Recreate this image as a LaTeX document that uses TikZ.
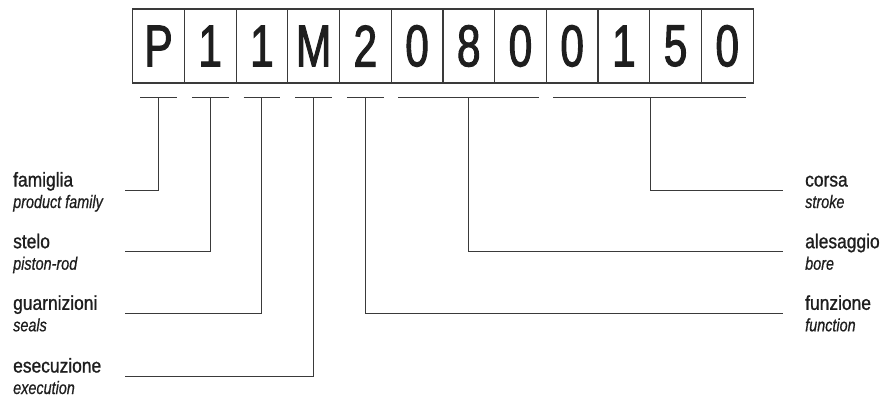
\documentclass[tikz,border=0pt]{standalone}
\usepackage{fontspec}
\setmainfont{Liberation Sans}
\newfontfamily\boxfont{Liberation Sans}[FakeStretch=0.72,FakeBold=1.6]
\newfontfamily\lblfont{Liberation Sans}[FakeStretch=0.87,FakeBold=1.0]
\newfontfamily\subfont{Liberation Sans}[FakeStretch=0.8,FakeBold=0.6]
\definecolor{ink}{HTML}{1E1E1E}
\definecolor{linec}{HTML}{3A3A3A}
\begin{document}
\begin{tikzpicture}[x=1pt,y=-1pt,
  digitbox/.style={draw=linec, line width=1.2pt, minimum width=51.7pt, minimum height=74pt,
    inner sep=0pt, text=ink, font=\boxfont\fontsize{59}{61}\selectfont},
  seg/.style={draw=linec, line width=1pt},
  conn/.style={draw=linec, line width=1pt},
  lbl/.style={anchor=base west, inner sep=0pt, text=ink, font=\lblfont\fontsize{20}{22}\selectfont},
  sublbl/.style={anchor=base west, inner sep=0pt, text=ink, font=\subfont\itshape\fontsize{18}{20}\selectfont}]
\useasboundingbox (0,0) rectangle (880,399);
\foreach \c [count=\i] in {P,1,1,M,2,0,8,0,0,1,5,0}{
  \node[digitbox] (b\i) at ({132.7+51.7*(\i-0.5)},46) {\c};
}
% underline segments
\foreach \i in {1,...,5}{
  \draw[seg] ([xshift=8pt,yshift=-14pt]b\i.south west) -- ([xshift=-8pt,yshift=-14pt]b\i.south east);
  \coordinate (d\i) at ([yshift=-14pt]b\i.south);
}
\draw[seg] ([xshift=7.5pt,yshift=-14pt]b6.south west) -- ([xshift=-7.5pt,yshift=-14pt]b8.south east);
\coordinate (d6) at ([yshift=-14pt]b7.south);
\draw[seg] ([xshift=7.5pt,yshift=-14pt]b9.south west) -- ([xshift=-7.5pt,yshift=-14pt]b12.south east);
\coordinate (d7) at ([yshift=-14pt]b10.south east);
% left labels
\node[lbl] (l1) at (13,186.5) {famiglia};
\node[sublbl] (s1) at (13,208) {product family};
\node[lbl] (l2) at (13,248.2) {stelo};
\node[sublbl] (s2) at (13,269.7) {piston-rod};
\node[lbl] (l3) at (13,309.8) {guarnizioni};
\node[sublbl] (s3) at (13,331.3) {seals};
\node[lbl] (l4) at (13,372.5) {esecuzione};
\node[sublbl] (s4) at (13,394) {execution};
\coordinate (e1) at (125,190);
\coordinate (e2) at (125,251.7);
\coordinate (e3) at (125,313.3);
\coordinate (e4) at (125,376);
\draw[conn] (d1) |- (e1);
\draw[conn] (d2) |- (e2);
\draw[conn] (d3) |- (e3);
\draw[conn] (d4) |- (e4);
% right labels
\node[lbl] (r1) at (805,186.5) {corsa};
\node[sublbl] (t1) at (805,208) {stroke};
\node[lbl] (r2) at (805,248.2) {alesaggio};
\node[sublbl] (t2) at (805,269.7) {bore};
\node[lbl] (r3) at (805,309.8) {funzione};
\node[sublbl] (t3) at (805,331.3) {function};
\coordinate (f1) at (782.7,190);
\coordinate (f2) at (782.7,251.7);
\coordinate (f3) at (782.7,313.3);
\draw[conn] (d7) |- (f1);
\draw[conn] (d6) |- (f2);
\draw[conn] (d5) |- (f3);
\end{tikzpicture}
\end{document}
